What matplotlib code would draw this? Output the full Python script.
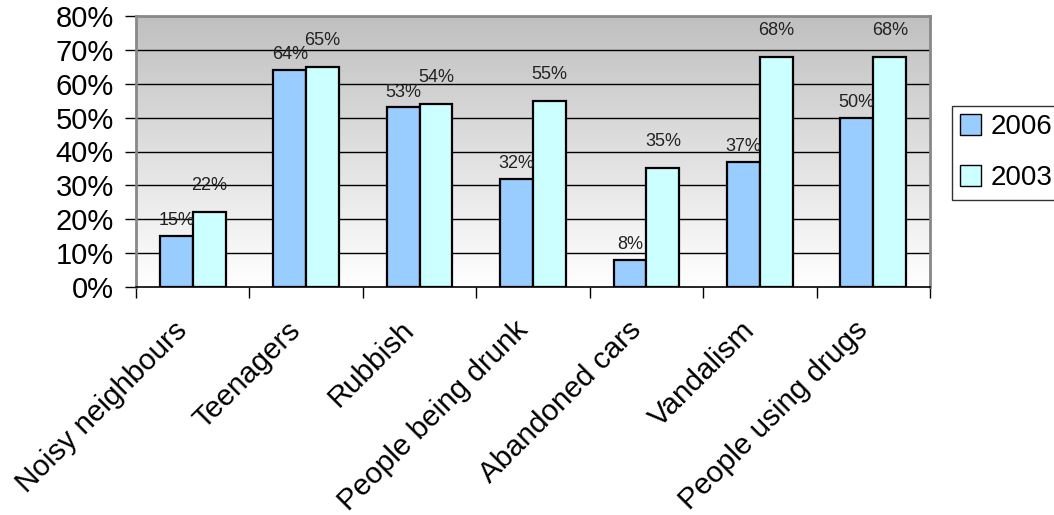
import numpy as np
import matplotlib
matplotlib.use("Agg")
import matplotlib.pyplot as plt
from matplotlib.colors import LinearSegmentedColormap
from matplotlib.patches import Patch

categories = ["Noisy neighbours", "Teenagers", "Rubbish", "People being drunk",
              "Abandoned cars", "Vandalism", "People using drugs"]
vals_2006 = [15, 64, 53, 32, 8, 37, 50]
vals_2003 = [22, 65, 54, 55, 35, 68, 68]
yticks = [0, 10, 20, 30, 40, 50, 60, 70, 80]

c2006 = "#99CCFF"
c2003 = "#CCFFFF"

plt.rcParams["font.family"] = ["Liberation Sans", "DejaVu Sans"]

fig = plt.figure(figsize=(10.54, 5.15), dpi=100)
ax = fig.add_axes([136 / 1054, (515 - 287) / 515, (930 - 136) / 1054, (287 - 16) / 515])

n = len(categories)
x = np.arange(n)
w = 0.29

# grey-to-white backdrop like the spreadsheet plot area
grad = LinearSegmentedColormap.from_list("bg", ["#FFFFFF", "#C0C0C0"])
ax.imshow(np.linspace(0, 1, 256).reshape(-1, 1), cmap=grad, origin="lower",
          aspect="auto", extent=[-0.5, n - 0.5, 0, 80], zorder=0)

for t in yticks[1:-1]:
    ax.axhline(t, color="black", lw=1, zorder=1)

b1 = ax.bar(x - w / 2, vals_2006, w, color=c2006, edgecolor="black", lw=1.6, zorder=2)
b2 = ax.bar(x + w / 2, vals_2003, w, color=c2003, edgecolor="black", lw=1.6, zorder=2)

for rect, v in zip(b1, vals_2006):
    ax.annotate(f"{v}%", (rect.get_x() + rect.get_width() / 2, v), xytext=(0, 5),
                textcoords="offset points", ha="center", va="bottom", fontsize=13, color="#222222")
for rect, v in zip(b2, vals_2003):
    ax.annotate(f"{v}%", (rect.get_x() + rect.get_width() / 2, v), xytext=(0, 13),
                textcoords="offset points", ha="center", va="bottom", fontsize=13, color="#222222")

ax.set_xlim(-0.5, n - 0.5)
ax.set_ylim(0, 80)
ax.set_yticks(yticks)
ax.set_yticklabels([f"{t}%" for t in yticks], fontsize=21)
ax.tick_params(axis="y", length=8, width=1, pad=8)

# ticks sit between the categories; names are placed separately
ax.set_xticks(np.arange(n + 1) - 0.5)
ax.set_xticklabels([])
ax.tick_params(axis="x", which="major", length=8, width=1, direction="out")
for i, name in enumerate(categories):
    ax.annotate(name, xy=(i, 0), xycoords=("data", "axes fraction"),
                xytext=(-7, -28), textcoords="offset points",
                rotation=45, ha="right", va="center", rotation_mode="anchor",
                fontsize=21.3, annotation_clip=False)

for s in ["top", "right", "left"]:
    ax.spines[s].set_color("#888888")
    ax.spines[s].set_linewidth(2)
ax.spines["bottom"].set_color("black")
ax.spines["bottom"].set_linewidth(1.2)

handles = [Patch(facecolor=c2006, edgecolor="black", label="2006"),
           Patch(facecolor=c2003, edgecolor="black", label="2003")]
fig.legend(handles=handles, loc="upper left", bbox_to_anchor=(952 / 1054, 1 - 106 / 515),
           fontsize=20, frameon=True, fancybox=False, edgecolor="black",
           handlelength=0.75, handleheight=0.75, handletextpad=0.35, borderpad=0.3,
           labelspacing=0.9, borderaxespad=0)

fig.savefig("out.png", dpi=100)
